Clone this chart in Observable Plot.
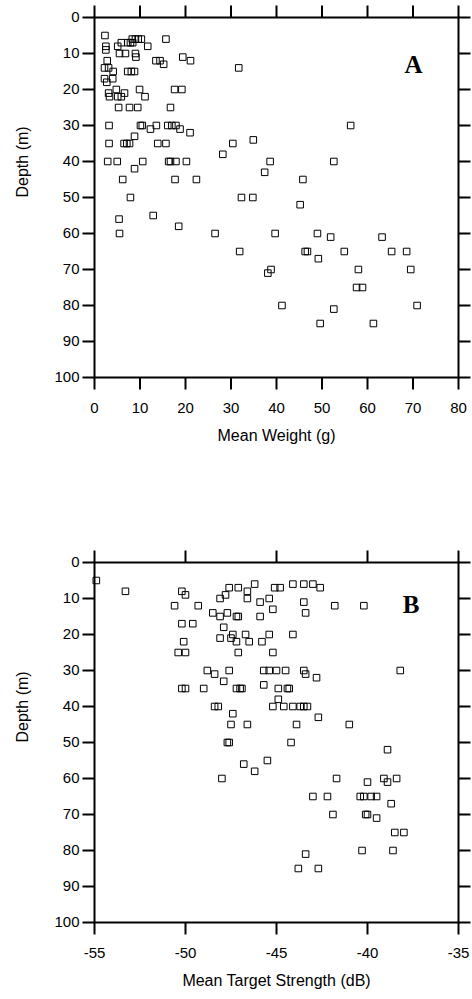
<!DOCTYPE html>
<html>
<head>
<meta charset="utf-8">
<script src="https://cdn.jsdelivr.net/npm/d3@7"></script>
<script src="https://cdn.jsdelivr.net/npm/@observablehq/plot@0.6"></script>
<style>
  html, body { margin: 0; padding: 0; background: #fff; }
  #chart svg { display: block; }
</style>
</head>
<body>
<div id="chart"></div>
<script>
// Panel A: mean weight (g) against depth (m)
const weightPoints = [
  [2.3,5],[2.5,8],[2.5,9],[5.1,8],[5.9,7],[7.3,7],[7.9,7],[8.4,7],[8.3,6],[9.0,6],[9.6,6],[10.3,6],[11.7,8],[15.7,6],
  [5.5,10],[6.8,10],[9.0,10],[9.1,11],[13.5,12],[14.4,12],[15.2,13],[19.4,11],[21.1,12],[31.7,14],
  [2.8,12],[2.2,14],[3.1,14],[4.1,15],[7.3,15],[8.1,15],[8.8,15],
  [2.2,17],[2.7,18],[4.0,17],
  [4.8,20],[6.6,21],[3.1,21],[3.3,22],[5.1,22],[5.9,22],[9.9,20],[11.1,22],[17.6,20],[19.2,20],
  [5.3,25],[7.7,25],[9.5,25],[16.7,25],
  [3.2,30],[10.1,30],[10.5,30],[12.3,31],[13.6,30],[16.1,30],[17.0,30],[17.9,30],[18.8,31],[21.0,32],[8.8,33],
  [3.2,35],[6.5,35],[7.1,35],[7.7,35],[13.9,35],[15.7,35],[30.4,35],[34.9,34],[28.2,38],
  [2.9,40],[5.0,40],[10.6,40],[16.3,40],[16.7,40],[17.9,40],[20.2,40],[38.6,40],[52.6,40],[37.4,43],[8.8,42],
  [6.2,45],[17.7,45],[22.4,45],[45.8,45],
  [56.3,30],
  [7.9,50],[32.3,50],[34.8,50],[45.2,52],
  [5.4,56],[12.9,55],[5.5,60],[18.5,58],[26.5,60],[39.7,60],[49.0,60],[51.9,61],[63.2,61],
  [31.9,65],[46.3,65],[46.8,65],[54.9,65],[49.2,67],[65.3,65],[68.6,65],[58.0,70],[69.5,70],[38.1,71],[38.8,70],
  [57.6,75],[58.9,75],[41.2,80],[52.6,81],[70.9,80],[49.6,85],[61.3,85]
];

// Panel B: mean target strength (dB) against depth (m)
const strengthPoints = [
  [-54.9,5],[-53.3,8],[-50.2,8],[-50.0,9],[-50.6,12],[-49.3,12],
  [-48.1,10],[-47.8,9],[-47.6,7],[-47.1,7],[-46.6,8],[-46.2,6],[-46.6,10],[-45.9,11],[-45.4,10],[-45.2,13],
  [-45.1,7],[-44.8,7],[-44.1,6],[-43.5,6],[-43.0,6],[-42.6,7],
  [-43.5,11],[-43.4,14],[-41.8,12],[-40.2,12],
  [-48.5,14],[-48.1,15],[-47.7,14],[-47.2,15],[-47.1,15],[-45.9,15],
  [-50.2,17],[-49.6,17],[-47.9,18],
  [-48.1,21],[-47.5,21],[-47.4,20],[-46.7,20],[-46.5,22],[-47.2,22],[-45.4,20],[-45.8,22],[-44.1,20],[-50.1,22],
  [-50.4,25],[-50.0,25],[-47.1,25],[-45.2,25],
  [-48.8,30],[-48.4,31],[-47.6,30],[-47.9,33],[-45.7,30],[-45.4,30],[-45.0,30],[-44.5,30],[-43.5,30],[-43.4,31],[-42.8,32],[-38.2,30],
  [-50.2,35],[-50.0,35],[-49.0,35],[-47.2,35],[-47.0,35],[-46.9,35],[-45.7,34],[-44.9,35],[-44.4,35],[-44.3,35],[-44.9,38],
  [-48.4,40],[-48.2,40],[-47.4,42],[-45.2,40],[-44.6,40],[-44.1,40],[-43.7,40],[-43.5,40],[-43.3,40],[-42.7,43],
  [-47.5,45],[-46.6,45],[-43.9,45],[-41.0,45],
  [-47.7,50],[-47.6,50],[-44.2,50],[-38.9,52],
  [-45.5,55],[-46.8,56],[-46.2,58],[-48.0,60],
  [-41.7,60],[-40.0,61],[-39.1,60],[-38.9,61],[-38.4,60],
  [-43.0,65],[-42.2,65],[-40.4,65],[-40.2,65],[-39.8,65],[-39.5,65],[-38.7,67],
  [-41.9,70],[-40.1,70],[-40.0,70],[-39.5,71],
  [-38.5,75],[-38.0,75],[-40.3,80],[-38.6,80],[-43.4,81],[-43.8,85],[-42.7,85]
];

const weightTicks = [0, 10, 20, 30, 40, 50, 60, 70, 80];
const strengthTicks = [-55, -50, -45, -40, -35];
const depthTicks = [0, 10, 20, 30, 40, 50, 60, 70, 80, 90, 100];
const depthDomain = [0, 100];

const sans = "'Liberation Sans', Arial, Helvetica, sans-serif";
const serif = "'Liberation Serif', 'Times New Roman', serif";

// plot area size in pixels
const W = 472, ML = 94, MR = 14, MT = 17, FRAME_H = 360;
const FRAME_W = W - ML - MR;
const TICK = 12;

function panel({points, xDomain, xTicks, xTitle, letter, letterDx, letterDy, marginBottom}) {
  const [x0, x1] = xDomain;
  const [y0, y1] = depthDomain;
  // outward tick length expressed in data units of each axis
  const extX = TICK / FRAME_W * (x1 - x0);
  const extY = TICK / FRAME_H * (y1 - y0);
  const tickStyle = {stroke: "black", strokeWidth: 2};
  return Plot.plot({
    width: W,
    height: MT + FRAME_H + marginBottom,
    marginLeft: ML,
    marginRight: MR,
    marginTop: MT,
    marginBottom,
    style: {fontFamily: sans, fontSize: "15px", color: "black", background: "white", overflow: "visible"},
    x: {domain: xDomain},
    y: {domain: depthDomain, reverse: true},
    marks: [
      // outward ticks on all four sides
      Plot.link(xTicks, {x1: d => d, x2: d => d, y1: y1, y2: y1 + extY, ...tickStyle}),
      Plot.link(xTicks, {x1: d => d, x2: d => d, y1: y0 - extY, y2: y0, ...tickStyle}),
      Plot.link(depthTicks, {y1: d => d, y2: d => d, x1: x0 - extX, x2: x0, ...tickStyle}),
      Plot.link(depthTicks, {y1: d => d, y2: d => d, x1: x1, x2: x1 + extX, ...tickStyle}),
      Plot.frame({stroke: "black", strokeWidth: 2}),
      // tick labels
      Plot.axisX({anchor: "bottom", ticks: xTicks, tickSize: 0, tickPadding: TICK + 13,
                  tickFormat: d => String(d), label: null, fill: "black"}),
      Plot.axisY({anchor: "left", ticks: depthTicks, tickSize: 0, tickPadding: TICK + 3,
                  tickFormat: d => String(d), label: null, fill: "black"}),
      Plot.dot(points, {x: d => d[0], y: d => d[1], symbol: "square", r: 3.7, stroke: "black", strokeWidth: 1, fill: "none"}),
      Plot.text([xTitle], {frameAnchor: "bottom", dy: 63, fontSize: 16, fill: "black"}),
      Plot.text(["Depth (m)"], {frameAnchor: "left", dx: -72, rotate: -90, fontSize: 16, fill: "black"}),
      Plot.text([letter], {frameAnchor: "top-right", dx: letterDx, dy: letterDy, fontFamily: serif,
                           fontWeight: "bold", fontSize: 25, fill: "black"})
    ]
  });
}

const chart = document.getElementById("chart");
chart.append(panel({
  points: weightPoints, xDomain: [0, 80], xTicks: weightTicks, xTitle: "Mean Weight (g)",
  letter: "A", letterDx: -36, letterDy: 38, marginBottom: 168
}));
chart.append(panel({
  points: strengthPoints, xDomain: [-55, -35], xTicks: strengthTicks, xTitle: "Mean Target Strength (dB)",
  letter: "B", letterDx: -39, letterDy: 33, marginBottom: 77
}));
</script>
</body>
</html>
